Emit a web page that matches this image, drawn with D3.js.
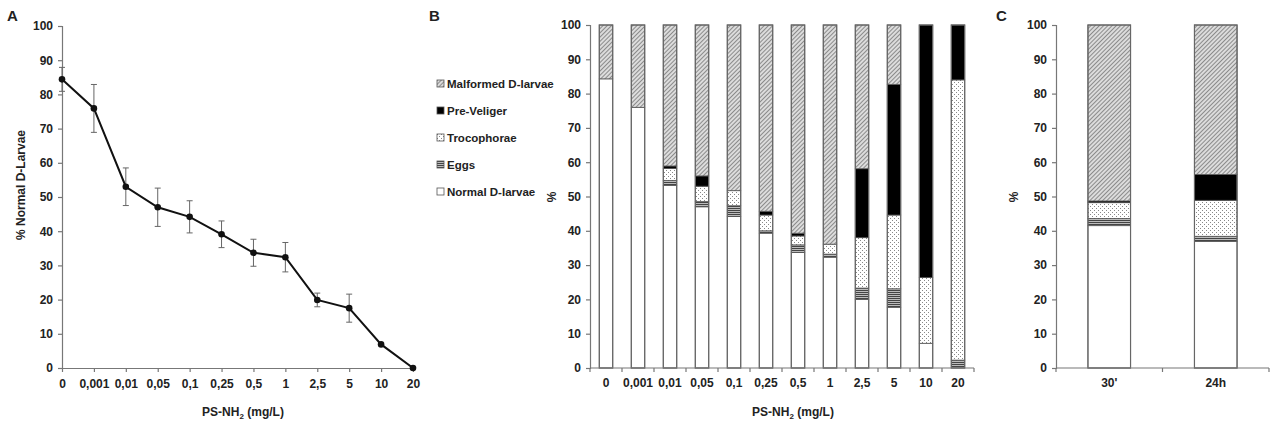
<!DOCTYPE html>
<html>
<head>
<meta charset="utf-8">
<script src="https://cdn.jsdelivr.net/npm/d3@7"></script>
<style>
  body { margin: 0; background: #fff; }
  svg text { font-family: "Liberation Sans", Arial, sans-serif; font-weight: bold; fill: #222; }
</style>
</head>
<body>
<div id="chart"></div>
<script>
var svgWidth = 1273;
var svgHeight = 426;

// concentrations (mg/L)
var doses = ["0", "0,001", "0,01", "0,05", "0,1", "0,25", "0,5", "1", "2,5", "5", "10", "20"];

// panel A: % normal D-larvae, mean and error
var normalMean = [84.4, 75.9, 53.0, 47.0, 44.2, 39.1, 33.7, 32.4, 19.9, 17.5, 6.9, 0];
var normalErr  = [3.5, 7.0, 5.5, 5.6, 4.7, 3.9, 3.95, 4.3, 2.0, 4.1, 0.3, 0];

// panel B: stacked composition per dose
var categories = ["Normal D-larvae", "Eggs", "Trocophorae", "Pre-Veliger", "Malformed D-larvae"];
var bNormal    = [84.3, 76.0, 53.2, 47.0, 44.2, 39.3, 33.7, 32.3, 20.0, 17.7, 7.2, 0];
var bEggs      = [0, 0, 1.5, 1.5, 3.1, 0.7, 2.2, 0.9, 3.3, 5.4, 0, 2.3];
var bTroco     = [0, 0, 3.5, 4.5, 4.4, 4.6, 2.6, 2.9, 14.7, 21.5, 19.2, 81.7];
var bPreVel    = [0, 0, 0.7, 3.0, 0, 1.1, 0.8, 0, 20.1, 38.1, 73.6, 16.0];
var bMalformed = [15.7, 24.0, 41.1, 44.0, 48.3, 54.3, 60.7, 63.9, 41.9, 17.3, 0, 0];

// panel C: exposure time
var times      = ["30'", "24h"];
var cNormal    = [41.5, 36.9];
var cEggs      = [2.1, 1.5];
var cTroco     = [4.6, 10.5];
var cPreVel    = [0.5, 7.5];
var cMalformed = [51.3, 43.6];

var yTicks = d3.range(0, 101, 10);

var svg = d3.select("#chart")
  .append("svg")
  .attr("width", svgWidth)
  .attr("height", svgHeight);

// fill patterns
var defs = svg.append("defs");

var hatch = defs.append("pattern")
  .attr("id", "hatch")
  .attr("patternUnits", "userSpaceOnUse")
  .attr("width", 3).attr("height", 3)
  .attr("patternTransform", "rotate(45)");
hatch.append("rect").attr("width", 3).attr("height", 3).attr("fill", "#dcdcdc");
hatch.append("line").attr("x1", 0).attr("y1", 0).attr("x2", 0).attr("y2", 3)
  .attr("stroke", "#555").attr("stroke-width", 1.2);

var dots = defs.append("pattern")
  .attr("id", "dots")
  .attr("patternUnits", "userSpaceOnUse")
  .attr("width", 4).attr("height", 4);
dots.append("rect").attr("width", 4).attr("height", 4).attr("fill", "#fff");
dots.append("rect").attr("x", 0).attr("y", 0).attr("width", 1).attr("height", 1).attr("fill", "#888");
dots.append("rect").attr("x", 2).attr("y", 2).attr("width", 1).attr("height", 1).attr("fill", "#888");

var lines = defs.append("pattern")
  .attr("id", "hlines")
  .attr("patternUnits", "userSpaceOnUse")
  .attr("width", 4).attr("height", 2);
lines.append("rect").attr("width", 4).attr("height", 2).attr("fill", "#bbb");
lines.append("rect").attr("y", 0).attr("width", 4).attr("height", 1).attr("fill", "#444");

var fills = {
  "Normal D-larvae": "#fff",
  "Eggs": "url(#hlines)",
  "Trocophorae": "url(#dots)",
  "Pre-Veliger": "#000",
  "Malformed D-larvae": "url(#hatch)"
};

var axisColor = "#777";

function styleAxis(g) {
  g.select(".domain").attr("stroke", axisColor).attr("stroke-width", 1.2);
  g.selectAll(".tick line").attr("stroke", axisColor).attr("stroke-width", 1.2);
  g.selectAll(".tick text").attr("font-size", "12px").attr("fill", "#222")
    .attr("font-family", "Liberation Sans, Arial, sans-serif").attr("font-weight", "bold");
}

function panelLetter(x, txt) {
  svg.append("text").attr("x", x).attr("y", 21).attr("font-size", "15px").text(txt);
}

function xTitle(cx) {
  var t = svg.append("text")
    .attr("x", cx).attr("y", 416)
    .attr("text-anchor", "middle")
    .attr("font-size", "12px");
  t.append("tspan").text("PS-NH");
  t.append("tspan").attr("font-size", "8px").attr("dy", 3).text("2");
  t.append("tspan").attr("dy", -3).text(" (mg/L)");
}

function yTitle(x, y, txt) {
  svg.append("text")
    .attr("transform", `translate(${x}, ${y}) rotate(-90)`)
    .attr("text-anchor", "middle")
    .attr("font-size", "12px")
    .text(txt);
}

var plotTop = 25, plotBottom = 368;

// ---------- Panel A ----------
var xA = d3.scalePoint().domain(doses).range([62, 413]);
var yA = d3.scaleLinear().domain([0, 100]).range([plotBottom, plotTop + 1]);

var gA = svg.append("g");
gA.append("g")
  .attr("transform", `translate(62, 0)`)
  .call(d3.axisLeft(yA).tickValues(yTicks).tickSize(4).tickPadding(5))
  .call(styleAxis);
gA.append("g")
  .attr("transform", `translate(0, ${plotBottom})`)
  .call(d3.axisBottom(xA).tickSize(4).tickPadding(7).tickSizeOuter(0))
  .call(styleAxis);

var aData = doses.map((d, i) => ({ dose: d, mean: normalMean[i], err: normalErr[i] }));

// error bars
var eb = gA.selectAll(".err").data(aData.filter(d => d.err > 0.5)).enter().append("g");
eb.append("line")
  .attr("x1", d => xA(d.dose)).attr("x2", d => xA(d.dose))
  .attr("y1", d => yA(d.mean + d.err)).attr("y2", d => yA(d.mean - d.err))
  .attr("stroke", "#666").attr("stroke-width", 1);
eb.append("line")
  .attr("x1", d => xA(d.dose) - 3).attr("x2", d => xA(d.dose) + 3)
  .attr("y1", d => yA(d.mean + d.err)).attr("y2", d => yA(d.mean + d.err))
  .attr("stroke", "#666").attr("stroke-width", 1);
eb.append("line")
  .attr("x1", d => xA(d.dose) - 3).attr("x2", d => xA(d.dose) + 3)
  .attr("y1", d => yA(d.mean - d.err)).attr("y2", d => yA(d.mean - d.err))
  .attr("stroke", "#666").attr("stroke-width", 1);

gA.append("path")
  .datum(aData)
  .attr("fill", "none")
  .attr("stroke", "#111")
  .attr("stroke-width", 2)
  .attr("d", d3.line().x(d => xA(d.dose)).y(d => yA(d.mean)));

gA.selectAll(".pt").data(aData).enter().append("circle")
  .attr("cx", d => xA(d.dose)).attr("cy", d => yA(d.mean))
  .attr("r", 3.3).attr("fill", "#111");

panelLetter(7, "A");
yTitle(25, 185, "% Normal D-Larvae");
xTitle(243);

// ---------- stacked bar panels ----------
function stackedPanel(x0, x1, cats, series, pad, yLabelX) {
  var rows = cats.map((c, i) => {
    var r = { cat: c };
    categories.forEach((k, j) => { r[k] = series[j][i]; });
    return r;
  });
  var x = d3.scaleBand().domain(cats).range([x0, x1]).paddingInner(pad).paddingOuter(pad / 2);
  var y = d3.scaleLinear().domain([0, 100]).range([plotBottom, plotTop]);
  var stacked = d3.stack().keys(categories)(rows);

  var g = svg.append("g");
  g.selectAll(".layer").data(stacked).enter().append("g")
    .attr("fill", d => fills[d.key])
    .selectAll("rect").data(d => d.filter(p => p[1] - p[0] > 0)).enter().append("rect")
    .attr("x", d => x(d.data.cat))
    .attr("width", x.bandwidth())
    .attr("y", d => y(d[1]))
    .attr("height", d => y(d[0]) - y(d[1]))
    .attr("stroke", "#555")
    .attr("stroke-width", 0.8);

  // outline of whole bar
  g.selectAll(".outline").data(rows).enter().append("rect")
    .attr("x", d => x(d.cat)).attr("width", x.bandwidth())
    .attr("y", y(100)).attr("height", y(0) - y(100))
    .attr("fill", "none").attr("stroke", "#666").attr("stroke-width", 1.2);

  g.append("g")
    .attr("transform", `translate(${x0}, 0)`)
    .call(d3.axisLeft(y).tickValues(yTicks).tickSize(4).tickPadding(5))
    .call(styleAxis);

  // x axis with ticks on category boundaries
  var bounds = d3.range(cats.length + 1).map(i => x0 + i * x.step());
  var gx = g.append("g").attr("transform", `translate(0, ${plotBottom})`);
  gx.append("line").attr("x1", x0).attr("x2", x1).attr("stroke", axisColor).attr("stroke-width", 1.2);
  gx.selectAll(".tk").data(bounds).enter().append("line")
    .attr("x1", d => d).attr("x2", d => d).attr("y1", 0).attr("y2", 4)
    .attr("stroke", axisColor).attr("stroke-width", 1.2);
  gx.selectAll(".lb").data(cats).enter().append("text")
    .attr("x", d => x(d) + x.bandwidth() / 2).attr("y", 19)
    .attr("text-anchor", "middle").attr("font-size", "12px")
    .text(d => d);

  yTitle(yLabelX, 197, "%");
}

// ---------- Panel B ----------
stackedPanel(590, 974, doses, [bNormal, bEggs, bTroco, bPreVel, bMalformed], 0.58, 556);
panelLetter(429, "B");
xTitle(793);

// legend
var legendItems = categories.slice().reverse();
var lg = svg.append("g").selectAll(".leg").data(legendItems).enter().append("g")
  .attr("transform", (d, i) => `translate(437, ${88 + i * 27})`);
lg.append("rect")
  .attr("x", 0).attr("y", -8).attr("width", 7).attr("height", 7)
  .attr("fill", d => fills[d]).attr("stroke", "#555").attr("stroke-width", 0.8);
lg.append("text").attr("x", 10).attr("y", 0).attr("font-size", "11.5px").text(d => d);

// ---------- Panel C ----------
stackedPanel(1056, 1269, times, [cNormal, cEggs, cTroco, cPreVel, cMalformed], 0.6, 1018);
panelLetter(996, "C");
</script>
</body>
</html>
